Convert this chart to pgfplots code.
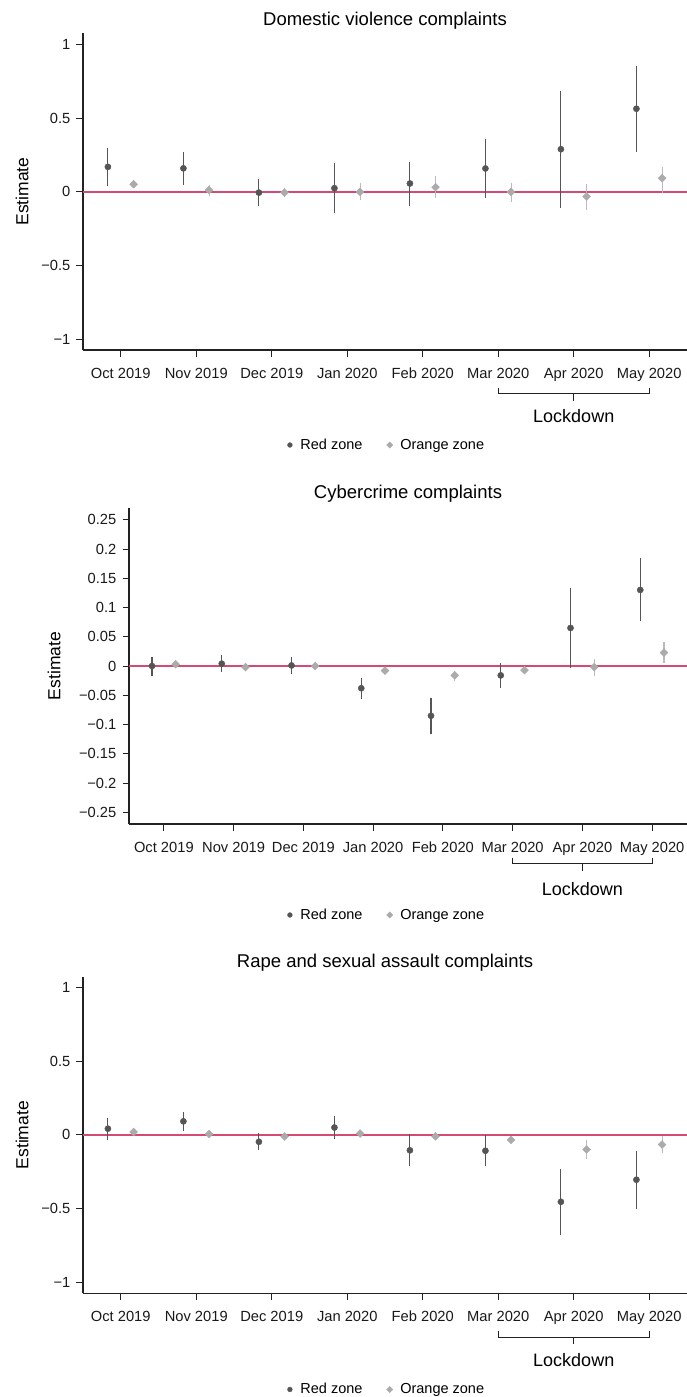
\documentclass[border=0pt]{standalone}
\usepackage{fontspec}
\setmainfont{Liberation Sans}
\usepackage{pgfplots}
\usepackage{pgfplotstable}
\pgfplotsset{compat=1.18}

\definecolor{redzone}{HTML}{555555}
\definecolor{orangezone}{HTML}{ABABAB}
\definecolor{orangebar}{HTML}{BBBBBB}
\definecolor{zeroline}{HTML}{D64A72}
\definecolor{axisgray}{HTML}{222222}

% columns: x position, estimate, lower and upper bound of the interval
\pgfplotstableread{
x     y       lo      hi
0.83  0.170   0.043   0.297
1.83  0.160   0.048   0.272
2.83  -0.005  -0.095  0.086
3.83  0.025   -0.141  0.193
4.83  0.057   -0.093  0.206
5.83  0.159   -0.043  0.358
6.83  0.290   -0.109  0.689
7.83  0.565   0.272   0.857
}\dvred
\pgfplotstableread{
x     y       lo      hi
1.17  0.052   0.023   0.082
2.17  0.012   -0.025  0.045
3.17  -0.005  -0.035  0.025
4.17  0.000   -0.057  0.059
5.17  0.032   -0.043  0.109
6.17  0.000   -0.066  0.063
7.17  -0.032  -0.122  0.054
8.17  0.093   -0.005  0.166
}\dvorange
\pgfplotstableread{
x     y       lo      hi
0.83  0.000   -0.017  0.016
1.83  0.004   -0.011  0.018
2.83  0.001   -0.014  0.015
3.83  -0.038  -0.057  -0.020
4.83  -0.085  -0.116  -0.055
5.83  -0.016  -0.038  0.006
6.83  0.065   -0.003  0.134
7.83  0.130   0.077   0.184
}\ccred
\pgfplotstableread{
x     y       lo      hi
1.17  0.003   -0.001  0.007
2.17  -0.002  -0.006  0.002
3.17  0.000   -0.004  0.004
4.17  -0.008  -0.012  -0.004
5.17  -0.016  -0.025  -0.009
6.17  -0.007  -0.011  -0.002
7.17  -0.002  -0.017  0.012
8.17  0.023   0.005   0.041
}\ccorange
\pgfplotstableread{
x     y       lo      hi
0.83  0.042   -0.032  0.117
1.83  0.092   0.024   0.157
2.83  -0.047  -0.106  0.010
3.83  0.050   -0.026  0.128
4.83  -0.105  -0.212  0.004
5.83  -0.108  -0.212  -0.003
6.83  -0.455  -0.683  -0.233
7.83  -0.305  -0.503  -0.110
}\rsred
\pgfplotstableread{
x     y       lo      hi
1.17  0.020   0.005   0.037
2.17  0.006   -0.010  0.022
3.17  -0.011  -0.027  0.005
4.17  0.009   -0.007  0.025
5.17  -0.010  -0.026  0.006
6.17  -0.034  -0.052  -0.016
7.17  -0.099  -0.164  -0.035
8.17  -0.066  -0.122  -0.010
}\rsorange

\pgfplotsset{
  panel/.style={
    scale only axis, clip=false,
    xmin=0.5, xmax=8.5,
    xtick={1,...,8},
    xticklabels={Oct 2019,Nov 2019,Dec 2019,Jan 2020,Feb 2020,Mar 2020,Apr 2020,May 2020},
    axis x line*=bottom, axis y line*=left,
    axis line style={-, line width=1.2pt, color=axisgray},
    tick align=outside, major tick length=6.5pt,
    tick style={line width=0.9pt, color=axisgray},
    ticklabel style={font=\fontsize{14.7}{17}\selectfont, color=black!90},
    xticklabel style={anchor=base, yshift=-21.5pt},
    yticklabel style={anchor=east, inner sep=0pt, xshift=-6pt},
    ylabel=Estimate,
    ylabel style={font=\fontsize{17.5}{20}\selectfont, anchor=center},
    legend columns=2,
    legend style={draw=none, fill=none, anchor=center,
      font=\fontsize{14.5}{17}\selectfont,
      /tikz/every even column/.append style={column sep=22pt}},
  },
  redpts/.style={only marks, mark=*, mark size=3.1pt, color=redzone,
    error bars/y dir=both, error bars/y explicit, error bars/error mark=none,
    error bars/error bar style={line width=1.1pt, color=redzone},
    legend image code/.code={\path[draw=none, fill=none] (-3pt,0pt) rectangle (8.5pt,0.1pt);
      \fill[redzone] (0pt,0pt) circle[radius=2.4pt];}},
  orangepts/.style={only marks, mark=square*, mark size=2.8pt, color=orangezone,
    mark options={rotate=45},
    error bars/y dir=both, error bars/y explicit, error bars/error mark=none,
    error bars/error bar style={line width=1.1pt, color=orangebar},
    legend image code/.code={\path[draw=none, fill=none] (-3pt,0pt) rectangle (8.5pt,0.1pt);
      \fill[orangezone] (0pt,3.1pt) -- (3.1pt,0pt) -- (0pt,-3.1pt) -- (-3.1pt,0pt) -- cycle;}},
  zero/.style={no markers, line width=1.3pt, color=zeroline, forget plot},
  table/errtab/.style={x=x, y=y,
    y error plus expr=\thisrow{hi}-\thisrow{y},
    y error minus expr=\thisrow{y}-\thisrow{lo}},
}
\tikzset{bracket/.style={line width=0.9pt, color=axisgray}}

\begin{document}
\begin{tikzpicture}
\useasboundingbox (0pt,0pt) rectangle (687pt,-1397pt);

% Domestic violence
\begin{axis}[panel, at={(83pt,-350pt)}, anchor=south west,
  width=604pt, height=317pt, ymin=-1.075, ymax=1.08,
  ytick={-1,-0.5,0,0.5,1}, yticklabels={−1,−0.5,0,0.5,1},
  ylabel style={at={([xshift=-61pt]rel axis cs:0,0.5)}},
  legend style={at={(0.5025,-0.2997)}}]
\addplot[zero] coordinates {(0.5,0) (8.5,0)};
\addplot[redpts] table[errtab] {\dvred};
\addlegendentry{Red zone}
\addplot[orangepts] table[errtab] {\dvorange};
\addlegendentry{Orange zone}
\node[anchor=base, font=\fontsize{18.5}{20}\selectfont] at ([yshift=7.3pt]rel axis cs:0.5,1) {Domestic violence complaints};
\draw[bracket] ([yshift=-37.5pt]axis cs:6,-1.075) |- ([yshift=-43.5pt]axis cs:8,-1.075) -- ([yshift=-37.5pt]axis cs:8,-1.075);
\draw[bracket] ([yshift=-43.5pt]axis cs:7,-1.075) -- ([yshift=-50.5pt]axis cs:7,-1.075);
\node[anchor=base, font=\fontsize{18}{20}\selectfont] at ([yshift=-72pt]axis cs:7,-1.075) {Lockdown};
\end{axis}

% Cybercrime
\begin{axis}[panel, at={(129pt,-824pt)}, anchor=south west,
  width=558pt, height=316pt, ymin=-0.27, ymax=0.27,
  ytick={-0.25,-0.2,-0.15,-0.1,-0.05,0,0.05,0.1,0.15,0.2,0.25},
  yticklabels={−0.25,−0.2,−0.15,−0.1,−0.05,0,0.05,0.1,0.15,0.2,0.25},
  ylabel style={at={([xshift=-75pt]rel axis cs:0,0.5)}},
  legend style={at={(0.4615,-0.288)}}]
\addplot[zero] coordinates {(0.5,0) (8.5,0)};
\addplot[redpts] table[errtab] {\ccred};
\addlegendentry{Red zone}
\addplot[orangepts] table[errtab] {\ccorange};
\addlegendentry{Orange zone}
\node[anchor=base, font=\fontsize{18.5}{20}\selectfont] at ([yshift=9.3pt]rel axis cs:0.5,1) {Cybercrime complaints};
\draw[bracket] ([yshift=-33.5pt]axis cs:6,-0.27) |- ([yshift=-39.5pt]axis cs:8,-0.27) -- ([yshift=-33.5pt]axis cs:8,-0.27);
\draw[bracket] ([yshift=-39.5pt]axis cs:7,-0.27) -- ([yshift=-46.5pt]axis cs:7,-0.27);
\node[anchor=base, font=\fontsize{18}{20}\selectfont] at ([yshift=-71pt]axis cs:7,-0.27) {Lockdown};
\end{axis}

% Rape and sexual assault
\begin{axis}[panel, at={(83pt,-1293.3pt)}, anchor=south west,
  width=604pt, height=316.3pt, ymin=-1.077, ymax=1.073,
  ytick={-1,-0.5,0,0.5,1}, yticklabels={−1,−0.5,0,0.5,1},
  ylabel style={at={([xshift=-61pt]rel axis cs:0,0.5)}},
  legend style={at={(0.5025,-0.304)}}]
\addplot[zero] coordinates {(0.5,0) (8.5,0)};
\addplot[redpts] table[errtab] {\rsred};
\addlegendentry{Red zone}
\addplot[orangepts] table[errtab] {\rsorange};
\addlegendentry{Orange zone}
\node[anchor=base, font=\fontsize{18.5}{20}\selectfont] at ([yshift=9.3pt]rel axis cs:0.5,1) {Rape and sexual assault complaints};
\draw[bracket] ([yshift=-38pt]axis cs:6,-1.077) |- ([yshift=-44pt]axis cs:8,-1.077) -- ([yshift=-38pt]axis cs:8,-1.077);
\draw[bracket] ([yshift=-44pt]axis cs:7,-1.077) -- ([yshift=-51pt]axis cs:7,-1.077);
\node[anchor=base, font=\fontsize{18}{20}\selectfont] at ([yshift=-73pt]axis cs:7,-1.077) {Lockdown};
\end{axis}
\end{tikzpicture}
\end{document}
